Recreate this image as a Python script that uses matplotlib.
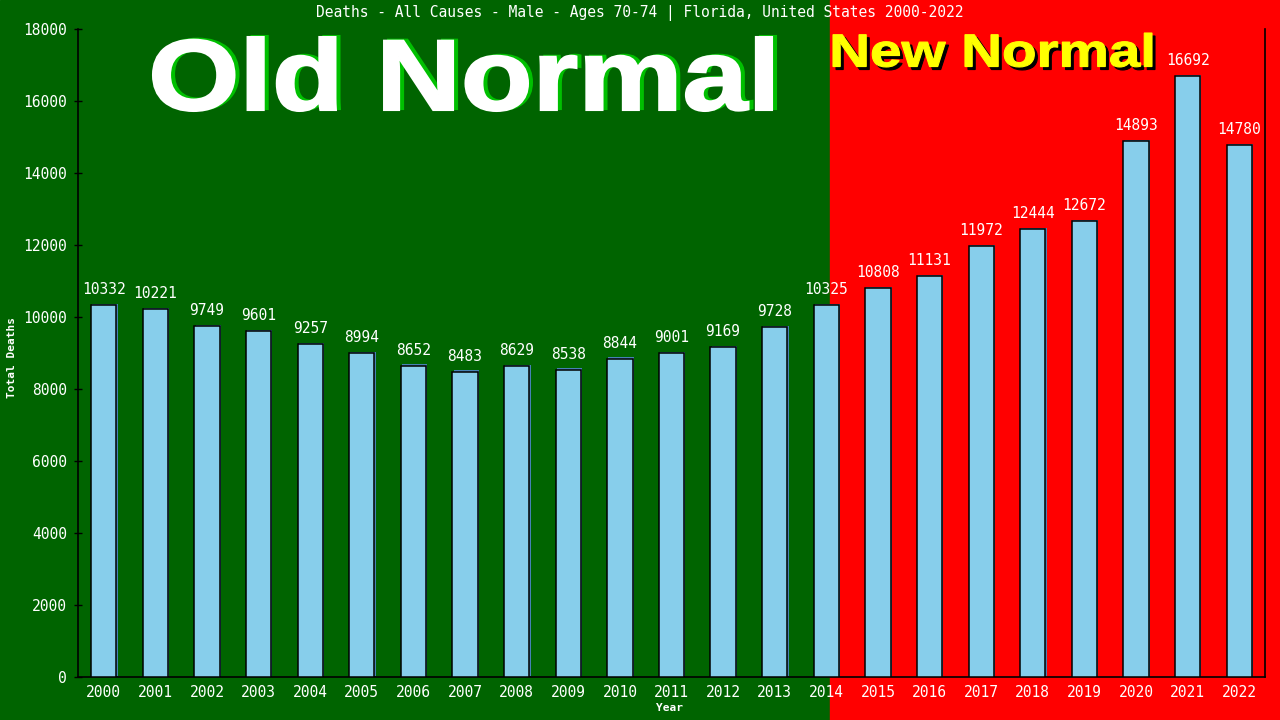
import numpy as np
import matplotlib.pyplot as plt
from matplotlib.patches import Rectangle, PathPatch
from matplotlib.textpath import TextPath
from matplotlib.font_manager import FontProperties
from matplotlib.transforms import ScaledTranslation, Affine2D

# data
years = [str(y) for y in range(2000, 2023)]
deaths = [10332, 10221, 9749, 9601, 9257, 8994, 8652, 8483, 8629, 8538, 8844,
          9001, 9169, 9728, 10325, 10808, 11131, 11972, 12444, 12672, 14893,
          16692, 14780]
yticks = list(range(0, 18001, 2000))
title = "Deaths - All Causes - Male - Ages 70-74 | Florida, United States 2000-2022"

W, H = 1280, 720
fig = plt.figure(figsize=(W / 100, H / 100), dpi=100)

# two-tone background
split = 830 / W
fig.patches.append(Rectangle((0, 0), split, 1, transform=fig.transFigure,
                             color="#006400", zorder=-10))
fig.patches.append(Rectangle((split, 0), 1 - split, 1, transform=fig.transFigure,
                             color="#FF0000", zorder=-10))

ax = fig.add_axes([78 / W, (H - 677) / H, (1265 - 78) / W, (677 - 29) / H])
ax.patch.set_alpha(0)

x = np.arange(len(years))
shadow = ax.transData + ScaledTranslation(1.2 / 100, 1.2 / 100, fig.dpi_scale_trans)
sb = ax.bar(x, deaths, width=0.49, color="#4682B4", zorder=2)
for p in sb:
    p.set_transform(shadow)
ax.bar(x, deaths, width=0.49, color="#87CEEB", edgecolor="black", lw=1.1, zorder=3)

mono = "DejaVu Sans Mono"
for xi, v in zip(x, deaths):
    ax.annotate(str(v), (xi, v), xytext=(0, 8), textcoords="offset pixels",
                ha="center", va="bottom", color="white", fontsize=10.5,
                family=mono, zorder=4)

ax.set_xlim(-0.5, len(years) - 0.5)
ax.set_ylim(0, 18000)
ax.set_yticks(yticks)
ax.set_xticks(x)
ax.set_xticklabels(years)
for lab in ax.get_xticklabels() + ax.get_yticklabels():
    lab.set_family(mono)
    lab.set_fontsize(10.5)
    lab.set_color("white")
ax.tick_params(axis="x", length=0, pad=6)
ax.tick_params(axis="y", direction="inout", length=6, width=1, color="black", pad=5)

ax.spines["top"].set_visible(False)
for s in ["left", "bottom", "right"]:
    ax.spines[s].set_color("black")
    ax.spines[s].set_linewidth(1.2)

fig.text(640 / W, 1 - 13 / H, title, ha="center", va="center",
         color="white", fontsize=10.5, family=mono)
fig.text(12 / W, 1 - 357 / H, "Total Deaths", rotation=90, ha="center",
         va="center", color="white", fontsize=8, family=mono, weight="bold")
fig.text(670 / W, 1 - 708 / H, "Year", ha="center", va="center",
         color="white", fontsize=8, family=mono, weight="bold")


# banner text fitted into a pixel box (top-left origin)
def banner(text, x0, x1, top, bottom, color, dx=0, dy=0, lw=0):
    tp = TextPath((0, 0), text, size=100,
                  prop=FontProperties(family="Liberation Sans", weight="bold"))
    ext = tp.get_extents()
    sx = (x1 - x0) / ext.width
    sy = (bottom - top) / ext.height
    tr = (Affine2D().translate(-ext.x0, -ext.y0).scale(sx, sy)
          .translate(x0 + dx, H - bottom - dy).scale(1 / 100))
    fig.patches.append(PathPatch(tr.transform_path(tp), transform=fig.dpi_scale_trans,
                                 facecolor=color, edgecolor=color, lw=lw, zorder=5))


banner("Old Normal", 153, 772, 37, 111, "#00C000", dx=4, dy=-1, lw=1.5)
banner("Old Normal", 153, 772, 37, 111, "white", lw=1.5)
banner("New Normal", 833, 1152, 33, 67, "black", dx=3, dy=3, lw=0.8)
banner("New Normal", 833, 1152, 33, 67, "#FFFF00", lw=0.8)

fig.savefig("out.png", dpi=100)
